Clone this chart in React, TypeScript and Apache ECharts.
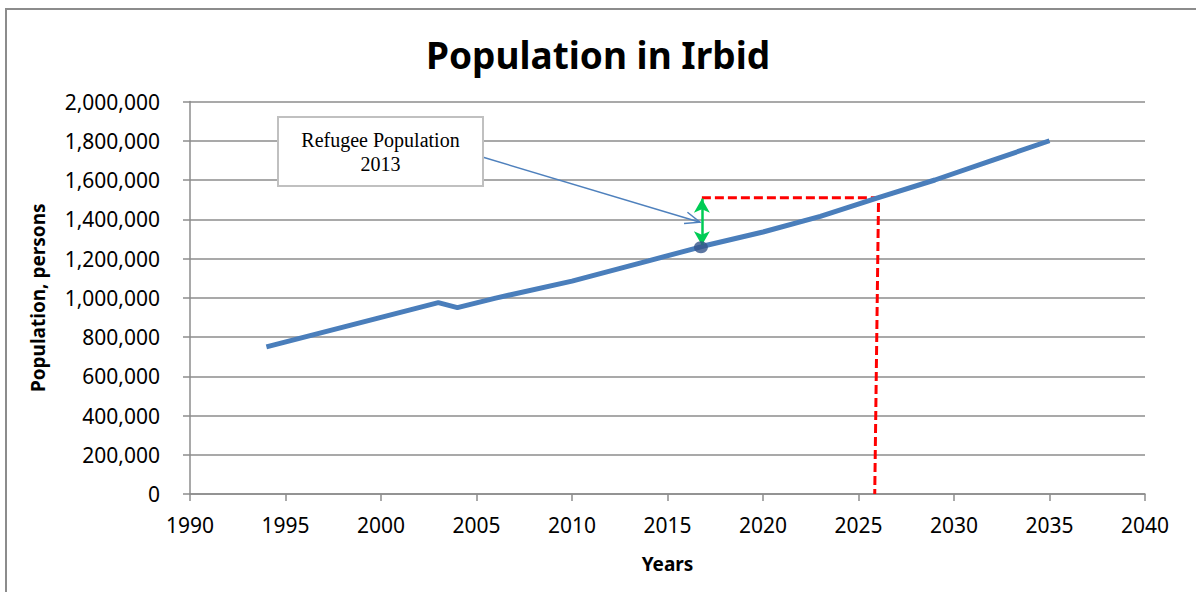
import React, { useEffect, useRef } from "react";
import * as echarts from "echarts";

// Population line (year, persons)
const years = [1994, 2003, 2004, 2006, 2010, 2014, 2017, 2020, 2023, 2026, 2029, 2032, 2035];
const population = [750000, 975000, 950000, 998000, 1085000, 1188000, 1266000, 1335000, 1415000, 1509000, 1600000, 1700000, 1800000];

// Refugee marker point
const markerYear = 2016.75;
const markerValue = 1257000;

// Green double arrow (refugee addition)
const arrowYear = 2016.8;
const arrowFrom = 1268000;
const arrowTo = 1505000;

// Red dashed projection
const projYears = [2016.8, 2026.05, 2025.85];
const projValues = [1510000, 1510000, 0];

// Callout
const calloutLines = ["Refugee Population", "2013"];
const calloutTarget = [2016.7, 1385000];

const xTicks = { min: 1990, max: 2040, interval: 5 };
const yTicks = { min: 0, max: 2000000, interval: 200000 };

export default function App() {
  const ref = useRef<HTMLDivElement>(null);
  useEffect(() => {
    if (!ref.current) return;
    const chart = echarts.init(ref.current, null, { renderer: "svg" });
    const font = "'Noto Sans', 'Open Sans', sans-serif";
    const gray = "#8c8c8c";
    chart.setOption({
      animation: false,
      backgroundColor: "#ffffff",
      title: {
        text: "Population in Irbid",
        left: "center",
        top: 31,
        textStyle: { fontFamily: font, fontSize: 37, fontWeight: "bold", color: "#000" },
      },
      grid: { left: 190, top: 101.5, right: 51, bottom: 98, containLabel: false },
      xAxis: {
        type: "value",
        min: xTicks.min,
        max: xTicks.max,
        interval: xTicks.interval,
        name: "Years",
        nameLocation: "middle",
        nameGap: 60,
        nameTextStyle: { fontFamily: font, fontSize: 19, fontWeight: "bold", color: "#000" },
        axisLine: { show: true, lineStyle: { color: gray, width: 1.5 } },
        axisTick: { show: true, length: 7, lineStyle: { color: gray, width: 1.5 } },
        splitLine: { show: false },
        axisLabel: {
          fontFamily: font,
          fontSize: 21,
          color: "#000",
          margin: 20,
          formatter: (v: number) => String(v),
        },
      },
      yAxis: {
        type: "value",
        min: yTicks.min,
        max: yTicks.max,
        interval: yTicks.interval,
        name: "Population, persons",
        nameLocation: "middle",
        nameGap: 143,
        nameRotate: 90,
        nameTextStyle: { fontFamily: font, fontSize: 19, fontWeight: "bold", color: "#000" },
        axisLine: { show: true, lineStyle: { color: gray, width: 1.5 } },
        axisTick: { show: true, length: 7, lineStyle: { color: gray, width: 1.5 } },
        splitLine: { show: true, lineStyle: { color: gray, width: 1.5 } },
        axisLabel: {
          fontFamily: font,
          fontSize: 21,
          color: "#000",
          margin: 30,
          formatter: (v: number) => v.toLocaleString("en-US"),
        },
      },
      series: [
        {
          type: "line",
          name: "Population",
          data: years.map((y, i) => [y, population[i]]),
          symbol: "none",
          lineStyle: { color: "#4A7EBB", width: 5 },
          z: 3,
        },
        {
          type: "line",
          name: "Projection",
          data: projYears.map((y, i) => [y, projValues[i]]),
          symbol: "none",
          lineStyle: { color: "#ff0000", width: 3, type: [9, 4] },
          z: 2,
          markLine: {
            silent: true,
            symbol: ["arrow", "arrow"],
            symbolSize: [12, 14],
            label: { show: false },
            lineStyle: { color: "#00CC55", width: 2.5, type: "solid" },
            data: [[{ coord: [arrowYear, arrowFrom] }, { coord: [arrowYear, arrowTo] }]],
          },
        },
        {
          type: "scatter",
          name: "Refugee",
          data: [[markerYear, markerValue]],
          symbol: "circle",
          symbolSize: [14, 12],
          itemStyle: { color: "#34558B" },
          z: 5,
        },
      ],
    });

    const tgt = chart.convertToPixel({ gridIndex: 0 }, calloutTarget) as number[];
    const sx = 479,
      sy = 156;
    const ang = Math.atan2(tgt[1] - sy, tgt[0] - sx);
    const hl = 16,
      ha = 0.38;
    const p1 = [tgt[0] - hl * Math.cos(ang - ha), tgt[1] - hl * Math.sin(ang - ha)];
    const p2 = [tgt[0] - hl * Math.cos(ang + ha), tgt[1] - hl * Math.sin(ang + ha)];

    chart.setOption({
      graphic: [
        {
          type: "rect",
          shape: { x: 6, y: 9, width: 1400, height: 800 },
          style: { fill: "none", stroke: "#8c8c8c", lineWidth: 2 },
          silent: true,
          z: 0,
        },
        {
          type: "rect",
          shape: { x: 278, y: 117, width: 205, height: 69 },
          style: { fill: "#ffffff", stroke: "#c0c0c0", lineWidth: 2 },
          z: 10,
        },
        {
          type: "text",
          x: 380.5,
          y: 140,
          style: {
            text: calloutLines[0],
            font: "20px 'Liberation Serif', 'Times New Roman', serif",
            fill: "#000",
            align: "center",
            verticalAlign: "middle",
          },
          z: 11,
        },
        {
          type: "text",
          x: 380.5,
          y: 164,
          style: {
            text: calloutLines[1],
            font: "20px 'Liberation Serif', 'Times New Roman', serif",
            fill: "#000",
            align: "center",
            verticalAlign: "middle",
          },
          z: 11,
        },
        {
          type: "line",
          shape: { x1: sx, y1: sy, x2: tgt[0], y2: tgt[1] },
          style: { stroke: "#4F81BD", lineWidth: 1.5 },
          z: 9,
        },
        {
          type: "polyline",
          shape: { points: [p1, tgt, p2] },
          style: { stroke: "#4F81BD", lineWidth: 1.5, fill: "none" },
          z: 9,
        },
      ],
    });

    return () => chart.dispose();
  }, []);
  return (
    <div
      ref={ref}
      style={{ position: "absolute", left: 0, top: 0, width: 1196, height: 592 }}
    />
  );
}
